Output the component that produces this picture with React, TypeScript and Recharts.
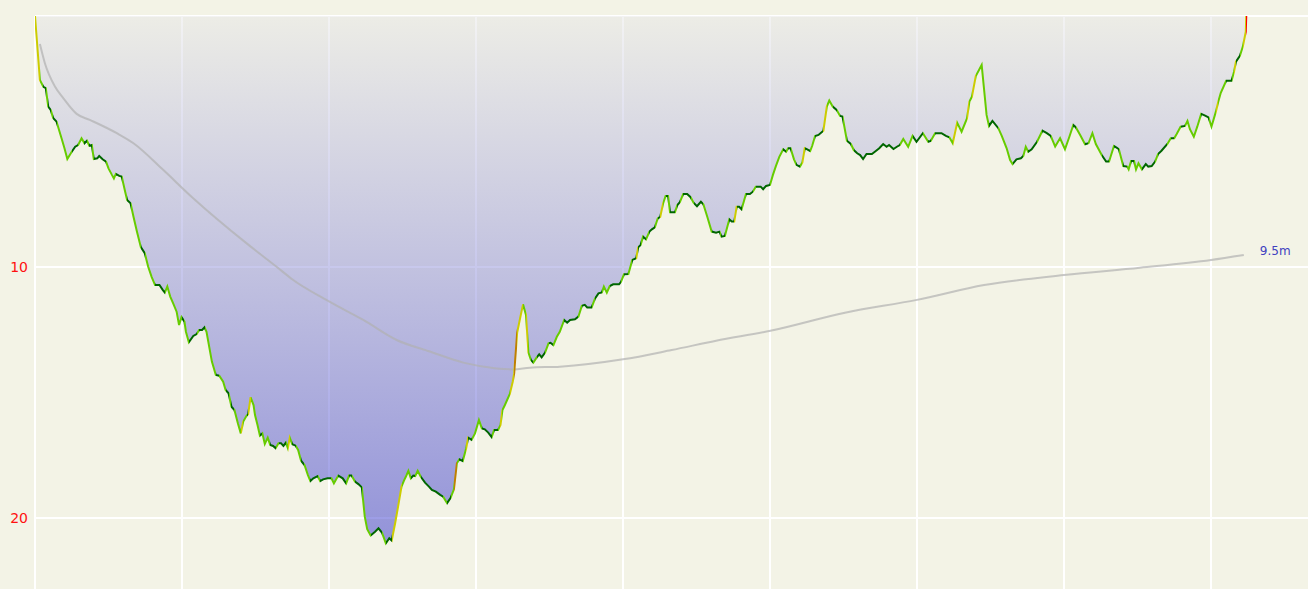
import React from "react";
import { Area, CartesianGrid, ComposedChart, LabelList, Line, XAxis, YAxis } from "recharts";

// dive profile samples: time in seconds, depth in metres
const profileTimes = [
  0, 10, 17, 22, 27, 32, 37, 44, 54, 60,
  66, 75, 82, 88, 95, 101, 106, 111, 116, 120,
  127, 131, 138, 145, 150, 157, 161, 165, 172, 177,
  184, 188, 195, 201, 208, 216, 224, 231, 238, 245,
  254, 261, 265, 270, 276, 282, 289, 294, 299, 305,
  308, 314, 323, 330, 335, 341, 346, 350, 361, 369,
  376, 384, 389, 395, 401, 407, 414, 420, 425, 432,
  435, 440, 446, 449, 454, 459, 464, 469, 475, 480,
  486, 491, 497, 502, 507, 512, 516, 520, 525, 532,
  537, 543, 550, 557, 562, 568, 577, 582, 588, 597,
  605, 610, 619, 628, 635, 641, 646, 653, 660, 667,
  673, 678, 685, 694, 701, 708, 716, 723, 728, 735,
  741, 748, 753, 757, 762, 767, 772, 776, 781, 787,
  796, 804, 810, 818, 827, 833, 841, 848, 855, 861,
  866, 873, 880, 884, 891, 898, 901, 906, 912, 918,
  925, 932, 937, 945, 950, 954, 959, 969, 975, 978,
  984, 990, 996, 1002, 1007, 1012, 1017, 1024, 1029, 1034,
  1041, 1048, 1052, 1058, 1065, 1071, 1080, 1086, 1092, 1102,
  1109, 1116, 1122, 1127, 1136, 1143, 1150, 1157, 1161, 1167,
  1173, 1180, 1192, 1196, 1202, 1211, 1219, 1227, 1231, 1236,
  1241, 1247, 1254, 1259, 1265, 1271, 1276, 1282, 1287, 1292,
  1296, 1306, 1311, 1316, 1323, 1331, 1338, 1344, 1351, 1359,
  1364, 1372, 1381, 1390, 1397, 1401, 1408, 1417, 1422, 1427,
  1432, 1437, 1442, 1451, 1459, 1465, 1471, 1481, 1486, 1492,
  1500, 1506, 1512, 1519, 1527, 1533, 1537, 1542, 1549, 1554,
  1561, 1566, 1571, 1576, 1582, 1586, 1592, 1599, 1609, 1616,
  1621, 1628, 1636, 1643, 1648, 1657, 1665, 1671, 1678, 1684,
  1690, 1697, 1708, 1714, 1723, 1731, 1738, 1743, 1752, 1759,
  1765, 1772, 1782, 1791, 1799, 1812, 1823, 1828, 1837, 1850,
  1859, 1866, 1873, 1882, 1891, 1902, 1907, 1912, 1920, 1932,
  1942, 1947, 1954, 1966, 1973, 1983, 1990, 1995, 2003, 2012,
  2017, 2022, 2027, 2034, 2045, 2056, 2065, 2073, 2082, 2092,
  2102, 2111, 2119, 2124, 2133, 2143, 2150, 2158, 2165, 2177,
  2186, 2192, 2202, 2208, 2212, 2221, 2229, 2232, 2237, 2243,
  2247, 2252, 2259, 2267, 2272, 2279, 2286, 2292, 2299, 2311,
  2318, 2325, 2330, 2338, 2347, 2352, 2357, 2365, 2372, 2380,
  2388, 2395, 2401, 2410, 2415, 2420, 2431, 2442, 2447, 2451,
  2459, 2465, 2471, 2472,
];

const profileDepths = [
  0, 2.55, 2.82, 2.87, 3.61, 3.74, 4.06, 4.21, 4.86, 5.26,
  5.7, 5.41, 5.21, 5.14, 4.87, 5.07, 4.97, 5.17, 5.14, 5.7,
  5.67, 5.58, 5.71, 5.8, 6.07, 6.33, 6.47, 6.29, 6.37, 6.4,
  7.0, 7.33, 7.46, 8.0, 8.59, 9.21, 9.45, 9.99, 10.39, 10.72,
  10.72, 10.92, 11.02, 10.78, 11.18, 11.45, 11.78, 12.31, 12.0, 12.18,
  12.58, 13.0, 12.75, 12.67, 12.51, 12.51, 12.4, 12.58, 13.77, 14.3,
  14.33, 14.57, 14.9, 15.03, 15.57, 15.7, 16.23, 16.63, 16.16, 15.92,
  15.87, 15.19, 15.5, 15.9, 16.29, 16.72, 16.63, 17.05, 16.8, 17.09,
  17.13, 17.22, 17.02, 17.02, 17.13, 17.0, 17.22, 16.8, 17.06, 17.12,
  17.29, 17.72, 17.89, 18.29, 18.53, 18.42, 18.33, 18.53, 18.46, 18.42,
  18.42, 18.62, 18.31, 18.42, 18.62, 18.31, 18.31, 18.55, 18.65, 18.78,
  19.95, 20.45, 20.7, 20.55, 20.41, 20.58, 21.01, 20.81, 20.9, 20.21,
  19.55, 18.75, 18.51, 18.35, 18.12, 18.42, 18.31, 18.33, 18.12, 18.35,
  18.59, 18.75, 18.88, 18.95, 19.08, 19.15, 19.41, 19.21, 18.86, 17.82,
  17.66, 17.73, 17.22, 16.8, 16.89, 16.63, 16.43, 16.1, 16.43, 16.47,
  16.6, 16.78, 16.49, 16.49, 16.29, 15.7, 15.5, 15.06, 14.57, 14.23,
  12.62, 12.04, 11.49, 11.91, 13.41, 13.7, 13.81, 13.6, 13.48, 13.6,
  13.41, 13.04, 13.02, 13.11, 12.78, 12.58, 12.11, 12.22, 12.11, 12.08,
  11.98, 11.55, 11.51, 11.61, 11.61, 11.25, 11.05, 11.01, 10.78, 11.02,
  10.76, 10.69, 10.69, 10.59, 10.29, 10.28, 9.72, 9.65, 9.22, 9.12,
  8.79, 8.9, 8.59, 8.5, 8.42, 8.06, 8.0, 7.46, 7.17, 7.17,
  7.82, 7.82, 7.53, 7.42, 7.09, 7.09, 7.22, 7.44, 7.58, 7.4,
  7.5, 8.0, 8.59, 8.63, 8.59, 8.79, 8.76, 8.1, 8.19, 8.19,
  7.6, 7.6, 7.7, 7.09, 7.09, 7.0, 6.8, 6.8, 6.9, 6.77,
  6.73, 6.33, 5.98, 5.61, 5.31, 5.41, 5.27, 5.27, 5.71, 5.93,
  6.0, 5.84, 5.27, 5.31, 5.38, 5.18, 4.78, 4.74, 4.57, 3.61,
  3.37, 3.61, 3.74, 3.98, 4.01, 4.97, 5.1, 5.34, 5.47, 5.54,
  5.7, 5.5, 5.5, 5.41, 5.27, 5.1, 5.21, 5.14, 5.3, 5.21,
  5.14, 4.9, 5.21, 4.78, 5.01, 4.67, 5.01, 4.98, 4.67, 4.67,
  4.78, 4.83, 5.07, 4.25, 4.61, 4.08, 3.41, 3.22, 2.39, 1.95,
  3.94, 4.38, 4.18, 4.47, 4.78, 5.27, 5.74, 5.9, 5.71, 5.67,
  5.58, 5.21, 5.41, 5.31, 5.01, 4.57, 4.67, 4.78, 5.2, 4.87,
  5.31, 4.81, 4.34, 4.43, 4.74, 5.11, 5.07, 4.67, 5.1, 5.54,
  5.8, 5.8, 5.18, 5.25, 5.31, 5.98, 6.0, 6.11, 5.78, 5.78,
  6.11, 5.87, 6.11, 5.9, 6.0, 5.98, 5.8, 5.5, 5.37, 5.1,
  4.87, 4.87, 4.7, 4.41, 4.38, 4.18, 4.51, 4.81, 4.41, 3.9,
  3.97, 4.04, 4.41, 3.81, 3.41, 3.06, 2.58, 2.58, 2.22, 1.82,
  1.59, 1.22, 0.63, 0,
];

// running mean depth
const meanTimes = [
  10, 20, 41, 58, 85, 112, 167, 201, 262, 320, 432, 493, 527, 598, 670, 738,
  806, 874, 942, 976, 1010, 1071, 1200, 1299, 1390, 1501, 1653, 1800, 1937,
  2100, 2255, 2400, 2467,
];
const meanDepths = [
  1.12, 1.87, 2.82, 3.28, 3.9, 4.14, 4.67, 5.07, 6.14, 7.21, 9.06, 9.99, 10.52,
  11.35, 12.11, 12.91, 13.37, 13.81, 14.04, 14.08, 14.01, 13.97, 13.68, 13.31,
  12.94, 12.54, 11.82, 11.31, 10.72, 10.32, 10.03, 9.72, 9.52,
];

const timeTicks = [0, 300, 600, 900, 1200, 1500, 1800, 2100, 2400];
const depthTicks = [0, 10, 20];

const BG = "#f3f3e6";
// stable, slow, moderate, fast, crazy
const VELOCITY_COLORS = ["#006600", "#66cc00", "#cccc00", "#bf8000", "#ff0000"];

function velocityClass(mmPerSec: number): number {
  if (mmPerSec <= -304) return 4;
  if (mmPerSec <= -152) return 3;
  if (mmPerSec <= -76) return 2;
  if (mmPerSec <= -30) return 1;
  if (mmPerSec < 30) return 0;
  if (mmPerSec < 250) return 1;
  if (mmPerSec < 400) return 2;
  if (mmPerSec < 600) return 3;
  return 4;
}

const profile = profileTimes.map((t, i) => ({ t, depth: profileDepths[i] }));
const meanProfile = meanTimes.map((t, i) => ({ t, mean: meanDepths[i] }));

const diveEnd = profileTimes[profileTimes.length - 1];
const velocityStops = profileTimes.slice(1).flatMap((t, i) => {
  const prev = profileTimes[i];
  const speed = ((profileDepths[i + 1] - profileDepths[i]) * 1000) / (t - prev);
  const color = VELOCITY_COLORS[velocityClass(speed)];
  return [
    { offset: prev / diveEnd, color },
    { offset: t / diveEnd, color },
  ];
});

function DepthTick({ x, y, payload }: any) {
  if (payload.value === 0) return null;
  return (
    <text x={x} y={y} dy="0.36em" textAnchor="end" fill="#ff1010" fontSize={14} fontFamily="DejaVu Sans">
      {payload.value}
    </text>
  );
}

function MeanLabel({ x, y, index, value }: any) {
  if (index !== meanDepths.length - 1) return null;
  return (
    <text x={x + 16} y={y - 4} dy="0.36em" fill="#4040c0" fontSize={12} fontFamily="DejaVu Sans">
      {`${Number(value).toFixed(1)}m`}
    </text>
  );
}

export default function App() {
  return (
    <div style={{ width: 1308, height: 589, background: BG }}>
      <style>{"body{margin:0;overflow:hidden}"}</style>
      <ComposedChart width={1308} height={589} data={profile} margin={{ top: 16, right: 0, bottom: 0, left: 0 }}>
        <defs>
          <linearGradient id="depthFill" x1="0" y1="0" x2="0" y2="1">
            <stop offset="0%" stopColor="rgb(230,230,230)" stopOpacity={0.5} />
            <stop offset="100%" stopColor="rgb(51,51,204)" stopOpacity={0.5} />
          </linearGradient>
          <linearGradient id="velocity" x1="0" y1="0" x2="1" y2="0">
            {velocityStops.map((s, i) => (
              <stop key={i} offset={s.offset} stopColor={s.color} />
            ))}
          </linearGradient>
        </defs>
        <CartesianGrid stroke="#ffffff" strokeWidth={2} horizontalValues={depthTicks} verticalValues={timeTicks} />
        <XAxis dataKey="t" type="number" domain={[0, 2598]} ticks={timeTicks} hide allowDataOverflow />
        <YAxis
          type="number"
          reversed
          domain={[0, 22.83]}
          ticks={depthTicks}
          width={35}
          tickLine={false}
          axisLine={false}
          tickSize={0}
          tickMargin={7}
          tick={<DepthTick />}
          allowDataOverflow
        />
        <Area
          dataKey="depth"
          type="linear"
          stroke="none"
          fill="url(#depthFill)"
          fillOpacity={1}
          baseValue={0}
          isAnimationActive={false}
          activeDot={false}
        />
        <Line
          data={meanProfile}
          dataKey="mean"
          type="monotone"
          stroke="#b0b0b0"
          strokeOpacity={0.7}
          strokeWidth={2}
          dot={false}
          activeDot={false}
          isAnimationActive={false}
        >
          <LabelList dataKey="mean" content={<MeanLabel />} />
        </Line>
        <Line
          dataKey="depth"
          type="linear"
          stroke="url(#velocity)"
          strokeWidth={2}
          dot={false}
          activeDot={false}
          isAnimationActive={false}
        />
      </ComposedChart>
    </div>
  );
}
